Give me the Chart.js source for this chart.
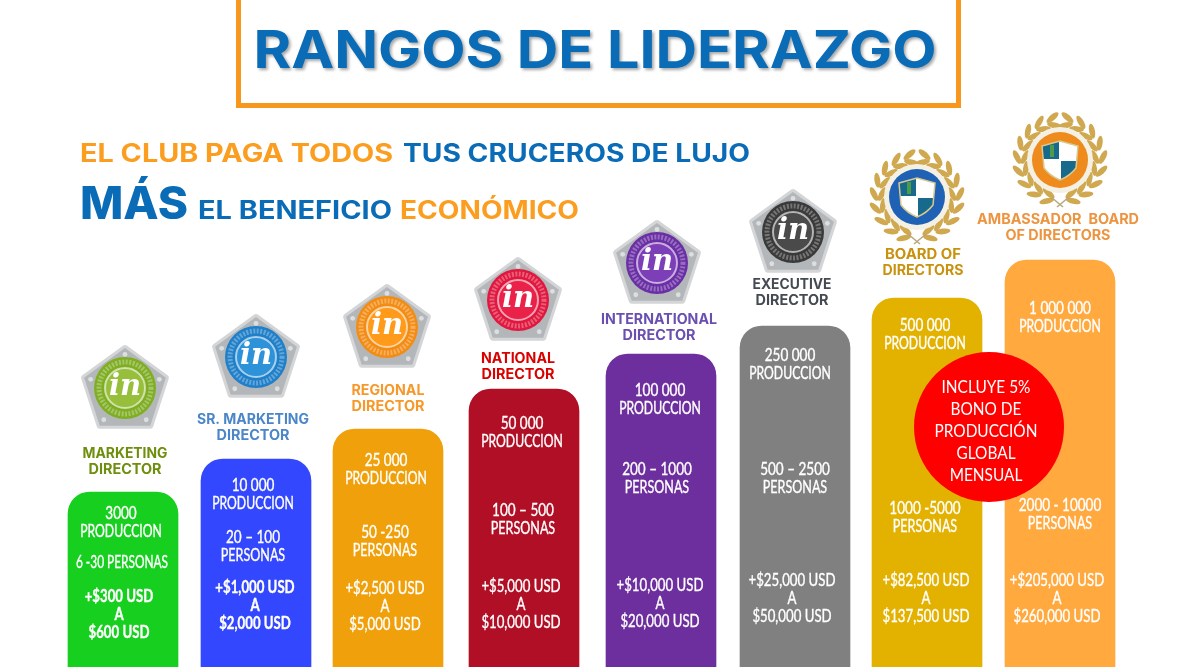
<!DOCTYPE html>
<html>
<head>
<meta charset="utf-8">
<title>Rangos de liderazgo</title>
<script src="https://cdn.jsdelivr.net/npm/chart.js@4"></script>
<style>
  html, body { margin: 0; padding: 0; background: #fff; overflow: hidden; }
  canvas { display: block; }
</style>
</head>
<body>
<canvas id="rankChart" width="1196" height="667"></canvas>
<script>
// data
const rankNames = [
  ['MARKETING', 'DIRECTOR'],
  ['SR. MARKETING', 'DIRECTOR'],
  ['REGIONAL', 'DIRECTOR'],
  ['NATIONAL', 'DIRECTOR'],
  ['INTERNATIONAL', 'DIRECTOR'],
  ['EXECUTIVE', 'DIRECTOR'],
  ['BOARD OF', 'DIRECTORS'],
  ['AMBASSADOR  BOARD', 'OF DIRECTORS']
]
const barHeights = [175, 208, 238, 278, 313, 341, 369, 407]
const production = ['3000', '10 000', '25 000', '50 000', '100 000', '250 000', '500 000', '1 000 000']
const people = ['6 -30 PERSONAS', '20 – 100', '50 -250', '100 – 500', '200 – 1000', '500 – 2500', '1000 -5000', '2000 - 10000']
const earningsFrom = ['+$300 USD', '+$1,000 USD', '+$2,500 USD', '+$5,000 USD', '+$10,000 USD', '+$25,000 USD', '+$82,500 USD', '+$205,000 USD']
const earningsTo = ['$600 USD', '$2,000 USD', '$5,000 USD', '$10,000 USD', '$20,000 USD', '$50,000 USD', '$137,500 USD', '$260,000 USD']
const bonusLines = ['INCLUYE 5%', 'BONO DE', 'PRODUCCIÓN', 'GLOBAL', 'MENSUAL']

// layout, in canvas pixels
const barCenters = [123, 256, 388, 524, 661, 795, 927, 1060]
const barColors = ['#17cf1f', '#3347ff', '#f0a00a', '#b00f25', '#6e2f9e', '#808080', '#e3b100', '#ffa93f']
const nameColors = ['#6f8e0c', '#4a86c8', '#f7982a', '#d90000', '#6a4fb0', '#454a52', '#c8920f', '#ec9440']
const nameX = [125, 253, 388, 518, 659, 792, 923, 1058]
const nameY = [453, 419, 390, 358, 319, 284, 254, 219]
const nameW = [[85, 73], [112, 73], [73, 73], [74, 73], [116, 73], [79, 73], [76, 81], [162, 105]]
const prodX = [121, 253, 386, 522, 660, 790, 925, 1060]
const prodY = [513, 485, 460, 423, 390, 355, 325, 308]
const peopleX = [122, 253, 385, 523, 657, 795, 925, 1060]
const peopleY = [562, 537, 532, 510, 469, 469, 508, 505]
const moneyX = [119, 255, 385, 521, 660, 792, 926, 1057]
const moneyY = [596, 587, 588, 586, 585, 580, 580, 580]
const badgeX = [125, 256, 387, 518, 657, 793]
const badgeY = [388, 357, 327, 300, 263, 232]
const badgeColors = ['#7fae24', '#1f7fc8', '#f28c14', '#e0183f', '#6a2fa5', '#3a3a3a']
const badgeInner = ['#97bf3c', '#2d92d8', '#ff9a1a', '#ea2148', '#7d3fb8', '#4a4a4a']

const BLUE = '#0a6cb6'
const ORANGE = '#fb9d1f'
const HEAD = '"Inter", "Open Sans", sans-serif'
const BODY = '"Lato", "Open Sans", sans-serif'

// draw text stretched to a measured width (the original face is wider than what we have)
function fitText(ctx, text, cx, cy, width, font, color) {
  ctx.save()
  ctx.font = font
  ctx.fillStyle = color
  ctx.textAlign = 'center'
  ctx.textBaseline = 'middle'
  const natural = ctx.measureText(text).width
  ctx.translate(cx, cy)
  ctx.scale(width / natural, 1)
  ctx.fillText(text, 0, 0)
  ctx.restore()
}

// bar labels are a narrow face in the original, so squeeze Lato a bit
function barText(ctx, text, x, y, squeeze, bold) {
  ctx.save()
  ctx.font = (bold ? 'bold ' : '') + '16.5px ' + BODY
  ctx.fillStyle = '#fff'
  ctx.strokeStyle = '#fff'
  ctx.lineWidth = 0.35
  ctx.textAlign = 'center'
  ctx.textBaseline = 'middle'
  ctx.translate(x, y + 1)
  ctx.scale(squeeze, 1)
  ctx.fillText(text, 0, 0)
  ctx.strokeText(text, 0, 0)
  ctx.restore()
}

function drawBadge(ctx, x, y, color, inner) {
  ctx.save()
  ctx.translate(x, y)
  ctx.filter = 'blur(0.6px)'
  const pts = []
  for (let i = 0; i < 5; i++) {
    const a = -Math.PI / 2 + i * 2 * Math.PI / 5
    pts.push([Math.cos(a) * 43, Math.sin(a) * 43 + 3])
  }
  ctx.beginPath()
  pts.forEach((p, i) => i ? ctx.lineTo(p[0], p[1]) : ctx.moveTo(p[0], p[1]))
  ctx.closePath()
  ctx.lineJoin = 'round'
  ctx.strokeStyle = '#d3d5d7'
  ctx.lineWidth = 6
  ctx.stroke()
  ctx.fillStyle = '#b4b7ba'
  ctx.fill()
  ctx.fillStyle = '#dcdee0'
  pts.forEach(p => {
    ctx.beginPath()
    ctx.arc(p[0] * 0.84, p[1] * 0.84, 2.4, 0, 7)
    ctx.fill()
  })
  ctx.beginPath()
  ctx.arc(0, 0, 31, 0, 7)
  ctx.fillStyle = color
  ctx.fill()
  ctx.beginPath()
  ctx.arc(0, 0, 26, 0, 7)
  ctx.setLineDash([2, 1.5])
  ctx.lineWidth = 5
  ctx.strokeStyle = 'rgba(255,255,255,0.3)'
  ctx.stroke()
  ctx.setLineDash([])
  ctx.beginPath()
  ctx.arc(0, 0, 20, 0, 7)
  ctx.lineWidth = 2
  ctx.strokeStyle = 'rgba(255,255,255,0.6)'
  ctx.fillStyle = inner
  ctx.fill()
  ctx.stroke()
  ctx.filter = 'none'
  ctx.fillStyle = '#fff'
  ctx.font = 'italic bold 29px "DejaVu Serif", "Liberation Serif", serif'
  ctx.textAlign = 'center'
  ctx.textBaseline = 'middle'
  ctx.fillText('in', 0, -1)
  ctx.restore()
}

function drawWreath(ctx, x, y, inner) {
  ctx.save()
  ctx.translate(x, y)
  ctx.fillStyle = '#cfa850'
  for (const side of [-1, 1]) {
    for (let i = 0; i < 9; i++) {
      const a = (14 + i * 19) * Math.PI / 180
      const rx = side * Math.sin(a)
      const ry = Math.cos(a)
      const tx = side * Math.cos(a)
      const ty = -Math.sin(a)
      for (const off of [-1, 1]) {
        const r = 39 + off * 4
        // leaf leans away from the stem, outer ones outward, inner ones inward
        const dx = tx + off * 0.5 * rx
        const dy = ty + off * 0.5 * ry
        ctx.save()
        ctx.translate(rx * r + tx * 3, ry * r + ty * 3)
        ctx.rotate(Math.atan2(-dx, dy))
        ctx.beginPath()
        ctx.ellipse(0, 0, 2.9, 7.5, 0, 0, 7)
        ctx.fill()
        ctx.restore()
      }
    }
    ctx.strokeStyle = '#b9a67c'
    ctx.lineWidth = 1.5
    ctx.beginPath()
    ctx.moveTo(side * 9, 37)
    ctx.lineTo(-side * 3, 47)
    ctx.stroke()
  }
  ctx.beginPath()
  ctx.arc(0, 0, 33, 0, 7)
  ctx.fillStyle = '#f4f1e4'
  ctx.fill()
  ctx.beginPath()
  ctx.arc(0, 0, 28, 0, 7)
  ctx.fillStyle = inner
  ctx.fill()
  // shield
  ctx.beginPath()
  ctx.moveTo(-18, -14)
  ctx.lineTo(0, -19)
  ctx.lineTo(18, -14)
  ctx.lineTo(16, 8)
  ctx.quadraticCurveTo(10, 16, 0, 20)
  ctx.quadraticCurveTo(-10, 16, -16, 8)
  ctx.closePath()
  ctx.fillStyle = '#fff'
  ctx.fill()
  ctx.save()
  ctx.clip()
  ctx.fillStyle = '#176a8c'
  ctx.fillRect(-20, -21, 19, 20)
  ctx.fillRect(1, 1, 20, 21)
  ctx.fillStyle = '#4c9a4a'
  ctx.fillRect(-10, -15, 4, 12)
  ctx.restore()
  ctx.strokeStyle = '#d8c98f'
  ctx.lineWidth = 1.5
  ctx.stroke()
  ctx.restore()
}

const artwork = {
  id: 'artwork',
  beforeDatasetsDraw(chart) {
    const ctx = chart.ctx
    // title box, top edge runs off the page
    ctx.strokeStyle = '#f7971e'
    ctx.lineWidth = 5
    ctx.strokeRect(238.5, -10, 720, 115.5)
    ctx.save()
    ctx.filter = 'blur(1.5px)'
    fitText(ctx, 'RANGOS DE LIDERAZGO', 597, 54, 683, '700 52px ' + HEAD, 'rgba(80,80,80,0.5)')
    ctx.restore()
    fitText(ctx, 'RANGOS DE LIDERAZGO', 595, 52, 683, '700 52px ' + HEAD, BLUE)

    fitText(ctx, 'EL CLUB PAGA TODOS', 236.5, 154, 313, '700 25px ' + HEAD, ORANGE)
    fitText(ctx, 'TUS CRUCEROS DE LUJO', 576.5, 154, 347, '700 25px ' + HEAD, BLUE)
    fitText(ctx, 'MÁS', 134, 205, 108, '800 45px ' + HEAD, BLUE)
    fitText(ctx, 'EL BENEFICIO', 295, 211, 194, '700 25px ' + HEAD, BLUE)
    fitText(ctx, 'ECONÓMICO', 489.5, 211, 179, '700 25px ' + HEAD, ORANGE)

    badgeX.forEach((x, i) => drawBadge(ctx, x, badgeY[i], badgeColors[i], badgeInner[i]))
    drawWreath(ctx, 917, 197, '#1f62b5')
    drawWreath(ctx, 1060, 160, '#ef8a1d')

    rankNames.forEach((lines, i) => {
      lines.forEach((line, j) => {
        fitText(ctx, line, nameX[i], nameY[i] + 1 + j * 16, nameW[i][j], '700 14px ' + HEAD, nameColors[i])
      })
    })
  },
  afterDatasetsDraw(chart) {
    const ctx = chart.ctx
    barCenters.forEach((c, i) => {
      barText(ctx, production[i], prodX[i], prodY[i], 0.82)
      barText(ctx, 'PRODUCCION', prodX[i], prodY[i] + 18, 0.74)
      barText(ctx, people[i], peopleX[i], peopleY[i], i === 0 ? 0.72 : 0.82)
      if (i > 0) barText(ctx, 'PERSONAS', peopleX[i], peopleY[i] + 18, 0.76)
      const bold = i < 2
      barText(ctx, earningsFrom[i], moneyX[i], moneyY[i], 0.8, bold)
      barText(ctx, 'A', moneyX[i], moneyY[i] + 18, 0.8, bold)
      barText(ctx, earningsTo[i], moneyX[i], moneyY[i] + 36, 0.8, bold)
    })
    // red bonus circle over the last two bars
    ctx.beginPath()
    ctx.arc(989, 427, 75, 0, 7)
    ctx.fillStyle = '#fe0000'
    ctx.fill()
    bonusLines.forEach((line, i) => {
      ctx.save()
      ctx.font = '17.5px ' + BODY
      ctx.fillStyle = '#fff'
      ctx.textAlign = 'center'
      ctx.textBaseline = 'middle'
      ctx.translate(986, 387 + i * 22)
      ctx.scale(0.88, 1)
      ctx.fillText(line, 0, 0)
      ctx.restore()
    })
  }
}

new Chart(document.getElementById('rankChart').getContext('2d'), {
  type: 'bar',
  data: {
    labels: rankNames.map(n => n.join(' ')),
    datasets: [{
      data: barHeights.map((h, i) => ({ x: barCenters[i], y: h })),
      backgroundColor: barColors,
      borderRadius: { topLeft: 22, topRight: 22, bottomLeft: 0, bottomRight: 0 },
      borderSkipped: false,
      barThickness: 110
    }]
  },
  options: {
    responsive: false,
    animation: false,
    devicePixelRatio: 1,
    layout: { padding: 0 },
    plugins: { legend: { display: false }, tooltip: { enabled: false } },
    scales: {
      x: { type: 'linear', min: 0, max: 1196, offset: false, display: false },
      y: { min: 0, max: 667, display: false }
    }
  },
  plugins: [artwork]
})
</script>
</body>
</html>
